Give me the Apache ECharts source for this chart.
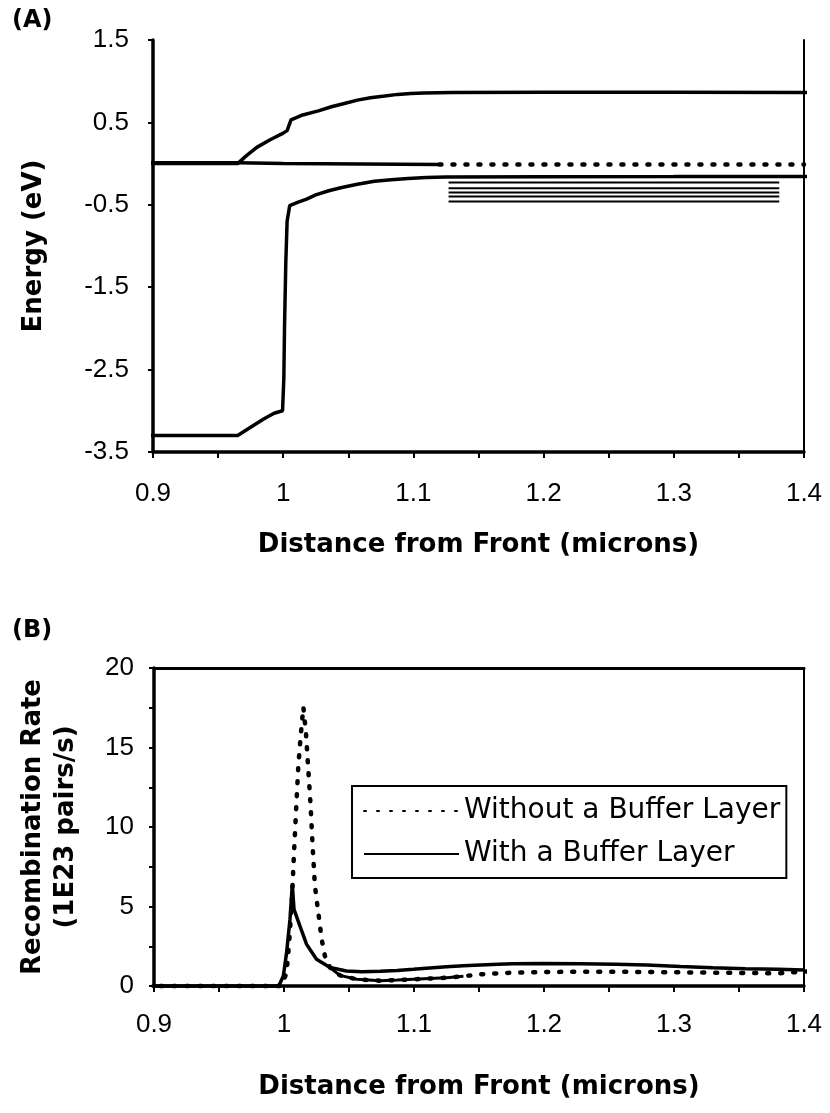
<!DOCTYPE html>
<html><head><meta charset="utf-8">
<script src="https://cdn.jsdelivr.net/npm/echarts@6/dist/echarts.min.js"></script>
<style>html,body{margin:0;padding:0;background:#fff}#c{width:830px;height:1113px}</style>
</head><body><div id="c"></div>
<script>
// ---------- Panel A: band diagram (Energy, eV) ----------
const xTicksLabelInterval = 0.1;
const cbX = [0.892, 0.965, 0.972, 0.98, 0.99, 1.0, 1.003, 1.006, 1.015, 1.027, 1.037, 1.047, 1.057, 1.067, 1.078, 1.088, 1.098, 1.108, 1.13, 1.2, 1.3, 1.405];
const cbY = [0.0, 0.0, 0.1, 0.2, 0.29, 0.37, 0.40, 0.53, 0.59, 0.64, 0.69, 0.73, 0.77, 0.80, 0.82, 0.84, 0.85, 0.857, 0.862, 0.865, 0.865, 0.862];
const efSolidX = [0.892, 0.965, 1.0, 1.12];
const efSolidY = [0.01, 0.01, 0.0, -0.01];
const efDotX = [1.12, 1.25, 1.40];
const efDotY = [-0.01, -0.01, -0.01];
const vbX = [0.892, 0.965, 0.975, 0.985, 0.993, 0.9995, 1.0005, 1.001, 1.002, 1.003, 1.005, 1.011, 1.018, 1.025, 1.035, 1.045, 1.057, 1.07, 1.083, 1.096, 1.11, 1.125, 1.2, 1.3, 1.405];
const vbY = [-3.30, -3.30, -3.20, -3.10, -3.03, -3.0, -2.6, -2.0, -1.2, -0.7, -0.51, -0.47, -0.43, -0.38, -0.33, -0.29, -0.25, -0.215, -0.195, -0.18, -0.17, -0.163, -0.16, -0.158, -0.155];
const defectStart = 1.127;
const defectEnd = 1.381;
const defectLevels = [-0.23, -0.30, -0.35, -0.40, -0.46];

// ---------- Panel B: recombination rate (1E23 pairs/s) ----------
const withoutX = [0.895, 0.998, 1.002, 1.004, 1.006, 1.0077, 1.0092, 1.011, 1.0128, 1.0149, 1.0169, 1.0187, 1.0205, 1.022, 1.0238, 1.0264, 1.029, 1.0315, 1.0354, 1.043, 1.056, 1.074, 1.087, 1.0995, 1.112, 1.125, 1.138, 1.151, 1.165, 1.176, 1.2, 1.228, 1.255, 1.279, 1.305, 1.33, 1.355, 1.38, 1.407];
const withoutY = [0, 0, 0.84, 2.8, 5.24, 8.38, 10.9, 13.8, 15.7, 17.55, 15.9, 13.6, 11.3, 8.8, 6.28, 4.61, 2.93, 1.88, 1.16, 0.67, 0.42, 0.33, 0.37, 0.42, 0.47, 0.52, 0.62, 0.73, 0.8, 0.84, 0.88, 0.9, 0.9, 0.88, 0.86, 0.84, 0.82, 0.8, 0.94];
const withoutDenseFrom = 1.035;   // stretch where the printed dots merge into a solid-looking line
const withoutDenseTo = 1.138;
const withX = [0.895, 0.996, 0.9995, 1.002, 1.0046, 1.0064, 1.0077, 1.0123, 1.0174, 1.025, 1.0354, 1.048, 1.06, 1.074, 1.087, 1.0995, 1.112, 1.125, 1.138, 1.151, 1.165, 1.176, 1.2, 1.228, 1.255, 1.279, 1.305, 1.33, 1.355, 1.38, 1.4];
const withY = [0, 0, 0.63, 2.1, 4.19, 6.39, 4.82, 3.77, 2.62, 1.68, 1.16, 0.94, 0.9, 0.92, 0.98, 1.05, 1.13, 1.21, 1.27, 1.32, 1.37, 1.40, 1.41, 1.40, 1.37, 1.32, 1.23, 1.15, 1.09, 1.05, 1.0];
const legendNames = ['Without a Buffer Layer', 'With a Buffer Layer'];
const xTitle = 'Distance from Front (microns)';
const aYTitle = 'Energy (eV)';
const bYTitle = 'Recombination Rate\n(1E23 pairs/s)';

const zip = (xs, ys) => xs.map((x, i) => [x, ys[i]]);

const tickFont = { fontFamily: 'Liberation Sans', fontSize: 26, color: '#000' };
const titleFont = { fontFamily: 'DejaVu Sans', fontWeight: 'bold', fontSize: 26, color: '#000' };
const dotStyle = { color: '#000', width: 4.5, type: [2, 11], cap: 'round' };

function xAxisMain(gi, margin, gap) {
  return {
    gridIndex: gi, type: 'value', min: 0.9, max: 1.4, interval: xTicksLabelInterval,
    axisLine: { show: true, onZero: false, lineStyle: { color: '#000', width: 3.5 } },
    axisTick: { show: true, length: 6, lineStyle: { color: '#000', width: 2 } },
    minorTick: { show: true, splitNumber: 2, length: 6, lineStyle: { color: '#000', width: 2 } },
    splitLine: { show: false }, minorSplitLine: { show: false },
    axisLabel: Object.assign({ margin: margin }, tickFont),
    name: xTitle, nameLocation: 'middle', nameGap: gap,
    nameTextStyle: Object.assign({ lineHeight: 30 }, titleFont)
  };
}

const series = [
  { type: 'line', xAxisIndex: 0, yAxisIndex: 0, data: zip(cbX, cbY), symbol: 'none', clip: false, lineStyle: { color: '#000', width: 3.5 } },
  { type: 'line', xAxisIndex: 0, yAxisIndex: 0, data: zip(vbX, vbY), symbol: 'none', clip: false, lineStyle: { color: '#000', width: 3.5 } },
  { type: 'line', xAxisIndex: 0, yAxisIndex: 0, data: zip(efSolidX, efSolidY), symbol: 'none', clip: false, lineStyle: { color: '#000', width: 3.5 } },
  { type: 'line', xAxisIndex: 0, yAxisIndex: 0, data: zip(efDotX, efDotY), symbol: 'none', clip: false, lineStyle: dotStyle },
];
defectLevels.forEach(v => series.push({
  type: 'line', xAxisIndex: 0, yAxisIndex: 0, data: [[defectStart, v], [defectEnd, v]],
  symbol: 'none', lineStyle: { color: '#000', width: 2 }
}));
const withoutPts = zip(withoutX, withoutY);
series.push(
  { name: legendNames[0], type: 'line', xAxisIndex: 1, yAxisIndex: 2, data: withoutPts, symbol: 'none', clip: false, color: '#000', lineStyle: dotStyle },
  { type: 'line', xAxisIndex: 1, yAxisIndex: 2, data: withoutPts.filter(p => p[0] >= withoutDenseFrom && p[0] <= withoutDenseTo), symbol: 'none', color: '#000', lineStyle: { color: '#000', width: 3 } },
  { name: legendNames[1], type: 'line', xAxisIndex: 1, yAxisIndex: 2, data: zip(withX, withY), symbol: 'none', clip: false, color: '#000', lineStyle: { color: '#000', width: 3.5 } }
);

const option = {
  animation: false,
  backgroundColor: '#fff',
  grid: [
    { left: 153, top: 40, width: 651, height: 412 },
    { left: 154, top: 668, width: 650, height: 318 }
  ],
  xAxis: [
    xAxisMain(0, 29, 78),
    xAxisMain(1, 26, 86),
    { gridIndex: 1, type: 'value', position: 'top', min: 0.9, max: 1.4,
      axisLine: { show: true, onZero: false, lineStyle: { color: '#000', width: 3 } },
      axisTick: { show: false }, axisLabel: { show: false }, splitLine: { show: false } }
  ],
  yAxis: [
    { gridIndex: 0, type: 'value', min: -3.5, max: 1.5, interval: 1,
      axisLine: { show: true, onZero: false, lineStyle: { color: '#000', width: 3.5 } },
      axisTick: { show: true, length: 5, lineStyle: { color: '#000', width: 2 } },
      splitLine: { show: false },
      axisLabel: Object.assign({ margin: 24 }, tickFont),
      name: aYTitle, nameLocation: 'middle', nameGap: 104,
      nameTextStyle: Object.assign({ lineHeight: 30 }, titleFont) },
    { gridIndex: 0, type: 'value', position: 'right', min: -3.5, max: 1.5,
      axisLine: { show: true, onZero: false, lineStyle: { color: '#000', width: 2 } },
      axisTick: { show: false }, axisLabel: { show: false }, splitLine: { show: false } },
    { gridIndex: 1, type: 'value', min: 0, max: 20, interval: 5,
      axisLine: { show: true, onZero: false, lineStyle: { color: '#000', width: 3.5 } },
      axisTick: { show: true, length: 5, lineStyle: { color: '#000', width: 2 } },
      minorTick: { show: true, splitNumber: 2, length: 5, lineStyle: { color: '#000', width: 2 } },
      splitLine: { show: false }, minorSplitLine: { show: false },
      axisLabel: Object.assign({ margin: 20 }, tickFont),
      name: bYTitle, nameLocation: 'middle', nameGap: 71,
      nameTextStyle: Object.assign({ lineHeight: 33 }, titleFont) },
    { gridIndex: 1, type: 'value', position: 'right', min: 0, max: 20,
      axisLine: { show: true, onZero: false, lineStyle: { color: '#000', width: 2 } },
      axisTick: { show: false }, axisLabel: { show: false }, splitLine: { show: false } }
  ],
  legend: {
    data: legendNames, orient: 'vertical', left: 352, top: 786,
    itemWidth: 95, itemHeight: 14, itemGap: 9,
    padding: [8, 6, 7, 11],
    borderColor: '#000', borderWidth: 2,
    itemStyle: { opacity: 0, borderWidth: 0 },
    textStyle: { fontFamily: 'DejaVu Sans', fontSize: 28, color: '#000', lineHeight: 34 },
    selectedMode: false
  },
  graphic: [
    { type: 'text', left: 12, top: 9, style: { text: '(A)', fontFamily: 'DejaVu Sans', fontWeight: 'bold', fontSize: 24, fill: '#000' } },
    { type: 'text', left: 12, top: 619, style: { text: '(B)', fontFamily: 'DejaVu Sans', fontWeight: 'bold', fontSize: 24, fill: '#000' } }
  ],
  series: series
};
const chart = echarts.init(document.getElementById('c'), null, { renderer: 'canvas' });
chart.setOption(option);
</script></body></html>
